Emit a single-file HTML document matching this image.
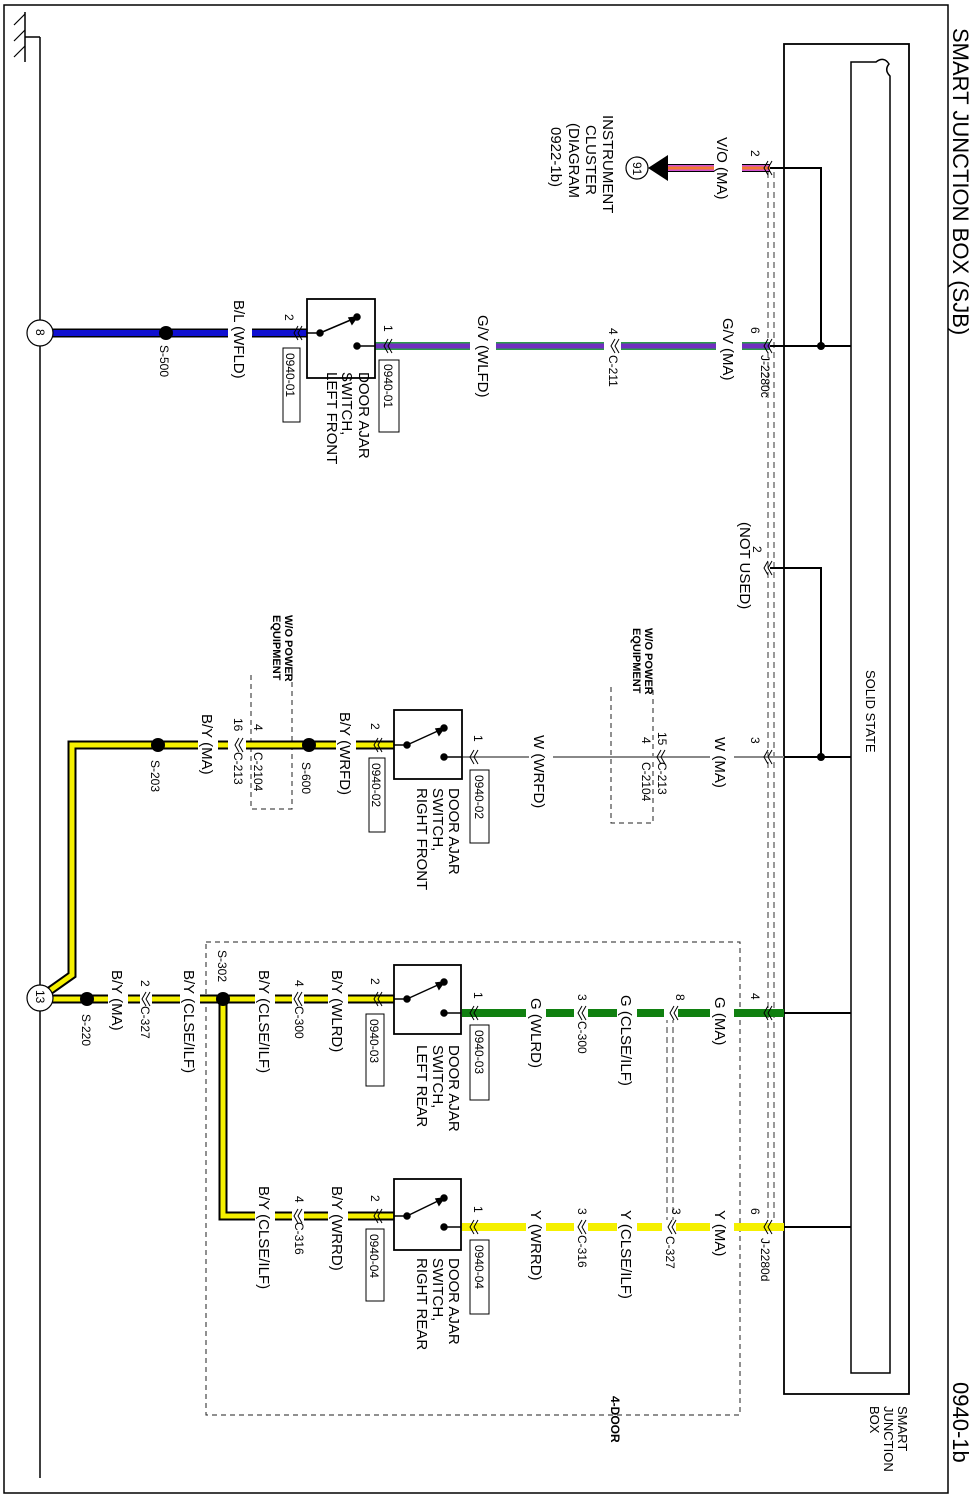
<!DOCTYPE html>
<html><head><meta charset="utf-8"><style>
html,body{margin:0;padding:0;background:#fff}
svg{display:block}
text{font-family:"Liberation Sans",sans-serif;fill:#000}
.l{font-size:15px}.s{font-size:12px}.n{font-size:12px}.b{font-size:11px;font-weight:bold}
</style></head><body>
<svg width="979" height="1498" viewBox="0 0 979 1498" xmlns="http://www.w3.org/2000/svg">
<rect x="4" y="5" width="944" height="1488" fill="none" stroke="#000" stroke-width="1.5"/>
<text transform="translate(953,28) rotate(90)" style="font-size:22px">SMART JUNCTION BOX (SJB)</text>
<text transform="translate(953,1382) rotate(90)" style="font-size:22px">0940-1b</text>

<!-- ground -->
<line x1="40" y1="37" x2="40" y2="1478" stroke="#000" stroke-width="1.5"/>
<line x1="25" y1="37" x2="40" y2="37" stroke="#000" stroke-width="1.5"/>
<line x1="25" y1="12" x2="25" y2="62" stroke="#000" stroke-width="1.5"/>
<g stroke="#000" stroke-width="1.2"><line x1="25" y1="14" x2="14" y2="25"/><line x1="25" y1="30" x2="14" y2="41"/><line x1="25" y1="46" x2="14" y2="57"/></g>

<!-- SJB box -->
<rect x="784" y="44" width="125" height="1350" fill="none" stroke="#000" stroke-width="1.8"/>
<path d="M851 1373 V62 H876 Q884 56 889 64 Q884 70 890 76 V1373 Z" fill="none" stroke="#000" stroke-width="1.5"/>
<text transform="translate(866,670) rotate(90)" style="font-size:13px">SOLID STATE</text>
<text transform="translate(898,1406) rotate(90)" style="font-size:13px">SMART</text>
<text transform="translate(884,1406) rotate(90)" style="font-size:13px">JUNCTION</text>
<text transform="translate(870,1406) rotate(90)" style="font-size:13px">BOX</text>

<g stroke="#000" stroke-width="2" fill="none">
<polyline points="784,168 821,168 821,346"/>
<line x1="784" y1="346" x2="851" y2="346"/>
<polyline points="784,568 821,568 821,757"/>
<line x1="784" y1="757" x2="851" y2="757"/>
<line x1="784" y1="1013" x2="851" y2="1013"/>
<line x1="784" y1="1227" x2="851" y2="1227"/>
</g>
<circle cx="821" cy="346" r="4"/><circle cx="821" cy="757" r="4"/>

<g stroke="#333" stroke-width="1" stroke-dasharray="6,4">
<line x1="768" y1="172" x2="768" y2="1222"/><line x1="774" y1="172" x2="774" y2="1222"/>
<line x1="667" y1="1017" x2="667" y2="1222"/><line x1="673" y1="1017" x2="673" y2="1222"/>
</g>

<g fill="none" stroke="#222" stroke-width="1" stroke-dasharray="5,4">
<rect x="206" y="942" width="534" height="473"/>
<polyline points="292,673 292,809 251,809 251,673"/>
<polyline points="611,687 611,823 653,823 653,687"/>
</g>

<!-- WIRES -->
<line x1="660" y1="168" x2="770" y2="168" stroke="#000" stroke-width="8"/>
<line x1="660" y1="168" x2="770" y2="168" stroke="#d050d0" stroke-width="6"/>
<line x1="660" y1="168" x2="770" y2="168" stroke="#f07830" stroke-width="3"/>
<line x1="770" y1="168" x2="784" y2="168" stroke="#000" stroke-width="2"/>
<line x1="375" y1="346" x2="770" y2="346" stroke="#2a9a4a" stroke-width="8"/>
<line x1="375" y1="346" x2="770" y2="346" stroke="#7030c0" stroke-width="5"/>
<line x1="770" y1="346" x2="784" y2="346" stroke="#000" stroke-width="2"/>
<line x1="40" y1="333" x2="308" y2="333" stroke="#000" stroke-width="9"/>
<line x1="40" y1="333" x2="308" y2="333" stroke="#1010d0" stroke-width="6"/>
<line x1="770" y1="568" x2="784" y2="568" stroke="#000" stroke-width="2"/>
<line x1="462" y1="757" x2="784" y2="757" stroke="#888" stroke-width="2"/>
<polyline points="394,745 72,745 72,975 48,992" fill="none" stroke="#000" stroke-width="9"/>
<polyline points="394,745 72,745 72,975 48,992" fill="none" stroke="#f5f000" stroke-width="5"/>
<line x1="462" y1="1013" x2="784" y2="1013" stroke="#108010" stroke-width="8"/>
<line x1="40" y1="999" x2="394" y2="999" stroke="#000" stroke-width="9"/>
<polyline points="223,999 223,1216 394,1216" fill="none" stroke="#000" stroke-width="9"/>
<line x1="40" y1="999" x2="394" y2="999" stroke="#f5f000" stroke-width="5"/>
<polyline points="223,999 223,1216 394,1216" fill="none" stroke="#f5f000" stroke-width="5"/>
<line x1="462" y1="1227" x2="784" y2="1227" stroke="#f5f000" stroke-width="8"/>

<g fill="#fff">
<rect x="714" y="160" width="28" height="16"/>
<rect x="716" y="338" width="26" height="16"/><rect x="604" y="338" width="17" height="16"/><rect x="470" y="338" width="26" height="16"/>
<rect x="228" y="325" width="24" height="16"/>
<rect x="710" y="750" width="24" height="14"/><rect x="529" y="750" width="24" height="14"/>
<rect x="198" y="738" width="20" height="14"/><rect x="336" y="738" width="20" height="14"/><rect x="228" y="738" width="18" height="14"/>
<rect x="710" y="1006" width="24" height="14"/><rect x="617" y="1006" width="20" height="14"/><rect x="526" y="1006" width="20" height="14"/><rect x="574" y="1006" width="14" height="14"/><rect x="664" y="1006" width="14" height="14"/>
<rect x="108" y="992" width="20" height="14"/><rect x="180" y="992" width="20" height="14"/><rect x="255" y="992" width="20" height="14"/><rect x="328" y="992" width="20" height="14"/><rect x="140" y="992" width="12" height="14"/><rect x="292" y="992" width="12" height="14"/>
<rect x="255" y="1209" width="20" height="14"/><rect x="328" y="1209" width="20" height="14"/><rect x="292" y="1209" width="12" height="14"/>
<rect x="710" y="1220" width="24" height="14"/><rect x="617" y="1220" width="20" height="14"/><rect x="526" y="1220" width="20" height="14"/><rect x="574" y="1220" width="14" height="14"/><rect x="662" y="1220" width="14" height="14"/>
</g>

<g fill="none" stroke="#000" stroke-width="1">
<path d="M768 161 L764 168 L768 175 M772 161 L768 168 L772 175"/>
<path d="M768 339 L764 346 L768 353 M772 339 L768 346 L772 353"/>
<path d="M615 339 L611 346 L615 353 M619 339 L615 346 L619 353"/>
<path d="M388 339 L384 346 L388 353 M392 339 L388 346 L392 353"/>
<path d="M298 326 L294 333 L298 340 M302 326 L298 333 L302 340"/>
<path d="M768 561 L764 568 L768 575 M772 561 L768 568 L772 575"/>
<path d="M768 750 L764 757 L768 764 M772 750 L768 757 L772 764"/>
<path d="M661 750 L657 757 L661 764 M665 750 L661 757 L665 764"/>
<path d="M474 750 L470 757 L474 764 M478 750 L474 757 L478 764"/>
<path d="M378 738 L374 745 L378 752 M382 738 L378 745 L382 752"/>
<path d="M239 738 L235 745 L239 752 M243 738 L239 745 L243 752"/>
<path d="M768 1006 L764 1013 L768 1020 M772 1006 L768 1013 L772 1020"/>
<path d="M674 1006 L670 1013 L674 1020 M678 1006 L674 1013 L678 1020"/>
<path d="M582 1006 L578 1013 L582 1020 M586 1006 L582 1013 L586 1020"/>
<path d="M474 1006 L470 1013 L474 1020 M478 1006 L474 1013 L478 1020"/>
<path d="M378 992 L374 999 L378 1006 M382 992 L378 999 L382 1006"/>
<path d="M298 992 L294 999 L298 1006 M302 992 L298 999 L302 1006"/>
<path d="M146 992 L142 999 L146 1006 M150 992 L146 999 L150 1006"/>
<path d="M378 1209 L374 1216 L378 1223 M382 1209 L378 1216 L382 1223"/>
<path d="M298 1209 L294 1216 L298 1223 M302 1209 L298 1216 L302 1223"/>
<path d="M768 1220 L764 1227 L768 1234 M772 1220 L768 1227 L772 1234"/>
<path d="M672 1220 L668 1227 L672 1234 M676 1220 L672 1227 L676 1234"/>
<path d="M582 1220 L578 1227 L582 1234 M586 1220 L582 1227 L586 1234"/>
<path d="M474 1220 L470 1227 L474 1234 M478 1220 L474 1227 L478 1234"/>
</g>

<polygon points="648,168 668,155 668,181" fill="#000"/>
<circle cx="637" cy="168" r="11" fill="#fff" stroke="#000" stroke-width="1.2"/>
<text transform="translate(633,162) rotate(90)" class="n">91</text>
<circle cx="40" cy="333" r="13" fill="#fff" stroke="#000" stroke-width="1.2"/>
<text transform="translate(36,329) rotate(90)" class="n">8</text>
<circle cx="40" cy="998" r="13" fill="#fff" stroke="#000" stroke-width="1.2"/>
<text transform="translate(36,990) rotate(90)" class="n">13</text>

<circle cx="166" cy="333" r="7"/><circle cx="158" cy="745" r="7"/><circle cx="309" cy="745" r="7"/>
<circle cx="87" cy="999" r="7"/><circle cx="223" cy="999" r="7"/>

<g fill="none" stroke="#000" stroke-width="1.8">
<rect x="307" y="299" width="68" height="79" fill="#fff"/>
<rect x="394" y="710" width="68" height="69" fill="#fff"/>
<rect x="394" y="965" width="67" height="69" fill="#fff"/>
<rect x="394" y="1179" width="67" height="71" fill="#fff"/>
</g>
<g stroke="#000" stroke-width="1.5" fill="#000">
<line x1="307" y1="333" x2="320" y2="333"/><line x1="320" y1="333" x2="353" y2="319"/><polygon points="357,317 349,318 352,324"/><circle cx="320" cy="333" r="3"/><circle cx="357" cy="317" r="3"/><circle cx="357" cy="346" r="3"/><line x1="357" y1="346" x2="375" y2="346"/>
<line x1="394" y1="745" x2="407" y2="745"/><line x1="407" y1="745" x2="440" y2="730"/><polygon points="444,728 436,729 439,735"/><circle cx="407" cy="745" r="3"/><circle cx="444" cy="728" r="3"/><circle cx="444" cy="757" r="3"/><line x1="444" y1="757" x2="462" y2="757"/>
<line x1="394" y1="999" x2="407" y2="999"/><line x1="407" y1="999" x2="440" y2="984"/><polygon points="444,982 436,983 439,989"/><circle cx="407" cy="999" r="3"/><circle cx="444" cy="982" r="3"/><circle cx="444" cy="1013" r="3"/><line x1="444" y1="1013" x2="461" y2="1013"/>
<line x1="394" y1="1216" x2="407" y2="1216"/><line x1="407" y1="1216" x2="440" y2="1200"/><polygon points="444,1198 436,1199 439,1205"/><circle cx="407" cy="1216" r="3"/><circle cx="444" cy="1198" r="3"/><circle cx="444" cy="1227" r="3"/><line x1="444" y1="1227" x2="461" y2="1227"/>
</g>

<g fill="#fff" stroke="#000" stroke-width="1">
<rect x="379" y="360" width="20" height="72"/><rect x="283" y="348" width="17" height="74"/>
<rect x="470" y="770" width="19" height="73"/><rect x="369" y="758" width="16" height="74"/>
<rect x="470" y="1025" width="19" height="75"/><rect x="366" y="1014" width="18" height="72"/>
<rect x="470" y="1240" width="19" height="74"/><rect x="366" y="1229" width="18" height="72"/>
</g>
<text transform="translate(384,364) rotate(90)" class="n">0940-01</text>
<text transform="translate(286,353) rotate(90)" class="n">0940-01</text>
<text transform="translate(475,775) rotate(90)" class="n">0940-02</text>
<text transform="translate(372,763) rotate(90)" class="n">0940-02</text>
<text transform="translate(475,1030) rotate(90)" class="n">0940-03</text>
<text transform="translate(370,1019) rotate(90)" class="n">0940-03</text>
<text transform="translate(475,1245) rotate(90)" class="n">0940-04</text>
<text transform="translate(370,1234) rotate(90)" class="n">0940-04</text>

<text transform="translate(603,115) rotate(90)" class="l">INSTRUMENT</text>
<text transform="translate(586,125) rotate(90)" class="l">CLUSTER</text>
<text transform="translate(569,123) rotate(90)" class="l">(DIAGRAM</text>
<text transform="translate(551,127) rotate(90)" class="l">0922-1b)</text>
<text transform="translate(751,150) rotate(90)" class="n">2</text>
<text transform="translate(717,137) rotate(90)" class="l">V/O (MA)</text>

<text transform="translate(751,327) rotate(90)" class="n">6</text>
<text transform="translate(723,318) rotate(90)" class="l">G/V (MA)</text>
<text transform="translate(761,355) rotate(90)" class="s">J-2280c</text>
<text transform="translate(609,328) rotate(90)" class="s">4</text>
<text transform="translate(609,355) rotate(90)" class="s">C-211</text>
<text transform="translate(478,315) rotate(90)" class="l">G/V (WLFD)</text>
<text transform="translate(384,325) rotate(90)" class="n">1</text>
<text transform="translate(359,372) rotate(90)" class="l">DOOR AJAR</text>
<text transform="translate(342,372) rotate(90)" class="l">SWITCH,</text>
<text transform="translate(327,372) rotate(90)" class="l">LEFT FRONT</text>
<text transform="translate(285,314) rotate(90)" class="n">2</text>
<text transform="translate(234,300) rotate(90)" class="l">B/L (WFLD)</text>
<text transform="translate(160,345) rotate(90)" class="s">S-500</text>

<text transform="translate(753,546) rotate(90)" class="n">2</text>
<text transform="translate(740,522) rotate(90)" class="l">(NOT USED)</text>

<text transform="translate(645,628) rotate(90)" class="b">W/O POWER</text>
<text transform="translate(633,628) rotate(90)" class="b">EQUIPMENT</text>
<text transform="translate(285,615) rotate(90)" class="b">W/O POWER</text>
<text transform="translate(273,615) rotate(90)" class="b">EQUIPMENT</text>

<text transform="translate(751,737) rotate(90)" class="n">3</text>
<text transform="translate(715,737) rotate(90)" class="l">W (MA)</text>
<text transform="translate(658,732) rotate(90)" class="s">15</text>
<text transform="translate(658,762) rotate(90)" class="s">C-213</text>
<text transform="translate(642,737) rotate(90)" class="s">4</text>
<text transform="translate(642,762) rotate(90)" class="s">C-2104</text>
<text transform="translate(534,735) rotate(90)" class="l">W (WRFD)</text>
<text transform="translate(474,735) rotate(90)" class="n">1</text>
<text transform="translate(449,788) rotate(90)" class="l">DOOR AJAR</text>
<text transform="translate(433,788) rotate(90)" class="l">SWITCH,</text>
<text transform="translate(417,788) rotate(90)" class="l">RIGHT FRONT</text>
<text transform="translate(371,723) rotate(90)" class="n">2</text>
<text transform="translate(340,712) rotate(90)" class="l">B/Y (WRFD)</text>
<text transform="translate(302,762) rotate(90)" class="s">S-600</text>
<text transform="translate(254,724) rotate(90)" class="s">4</text>
<text transform="translate(254,752) rotate(90)" class="s">C-2104</text>
<text transform="translate(234,718) rotate(90)" class="s">16</text>
<text transform="translate(234,752) rotate(90)" class="s">C-213</text>
<text transform="translate(202,714) rotate(90)" class="l">B/Y (MA)</text>
<text transform="translate(151,760) rotate(90)" class="s">S-203</text>

<text transform="translate(751,993) rotate(90)" class="n">4</text>
<text transform="translate(715,997) rotate(90)" class="l">G (MA)</text>
<text transform="translate(676,994) rotate(90)" class="n">8</text>
<text transform="translate(621,995) rotate(90)" class="l">G (CLSE/ILF)</text>
<text transform="translate(578,994) rotate(90)" class="s">3</text>
<text transform="translate(578,1021) rotate(90)" class="s">C-300</text>
<text transform="translate(531,998) rotate(90)" class="l">G (WLRD)</text>
<text transform="translate(474,992) rotate(90)" class="n">1</text>
<text transform="translate(449,1045) rotate(90)" class="l">DOOR AJAR</text>
<text transform="translate(433,1045) rotate(90)" class="l">SWITCH,</text>
<text transform="translate(417,1045) rotate(90)" class="l">LEFT REAR</text>
<text transform="translate(371,978) rotate(90)" class="n">2</text>
<text transform="translate(332,970) rotate(90)" class="l">B/Y (WLRD)</text>
<text transform="translate(295,980) rotate(90)" class="s">4</text>
<text transform="translate(295,1006) rotate(90)" class="s">C-300</text>
<text transform="translate(259,970) rotate(90)" class="l">B/Y (CLSE/ILF)</text>
<text transform="translate(218,950) rotate(90)" class="s">S-302</text>
<text transform="translate(184,970) rotate(90)" class="l">B/Y (CLSE/ILF)</text>
<text transform="translate(141,980) rotate(90)" class="s">2</text>
<text transform="translate(141,1006) rotate(90)" class="s">C-327</text>
<text transform="translate(112,970) rotate(90)" class="l">B/Y (MA)</text>
<text transform="translate(82,1014) rotate(90)" class="s">S-220</text>

<text transform="translate(751,1208) rotate(90)" class="n">6</text>
<text transform="translate(761,1238) rotate(90)" class="s">J-2280d</text>
<text transform="translate(715,1210) rotate(90)" class="l">Y (MA)</text>
<text transform="translate(672,1208) rotate(90)" class="n">3</text>
<text transform="translate(666,1236) rotate(90)" class="s">C-327</text>
<text transform="translate(621,1210) rotate(90)" class="l">Y (CLSE/ILF)</text>
<text transform="translate(578,1208) rotate(90)" class="s">3</text>
<text transform="translate(578,1235) rotate(90)" class="s">C-316</text>
<text transform="translate(531,1210) rotate(90)" class="l">Y (WRRD)</text>
<text transform="translate(474,1206) rotate(90)" class="n">1</text>
<text transform="translate(449,1258) rotate(90)" class="l">DOOR AJAR</text>
<text transform="translate(433,1258) rotate(90)" class="l">SWITCH,</text>
<text transform="translate(417,1258) rotate(90)" class="l">RIGHT REAR</text>
<text transform="translate(371,1195) rotate(90)" class="n">2</text>
<text transform="translate(332,1186) rotate(90)" class="l">B/Y (WRRD)</text>
<text transform="translate(295,1196) rotate(90)" class="s">4</text>
<text transform="translate(295,1222) rotate(90)" class="s">C-316</text>
<text transform="translate(259,1186) rotate(90)" class="l">B/Y (CLSE/ILF)</text>

<text transform="translate(611,1396) rotate(90)" class="b" style="font-size:12px">4-DOOR</text>
</svg>
</body></html>
